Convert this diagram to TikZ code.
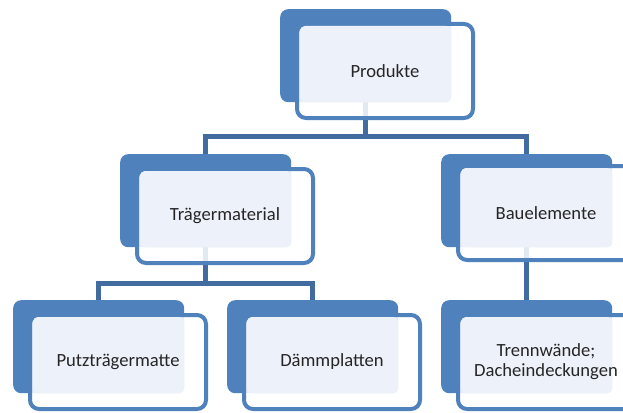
\documentclass[tikz,border=0pt]{standalone}
\usepackage{fontspec}
\setmainfont{Carlito}
\usepackage{tikz}
\usetikzlibrary{calc, positioning}
\definecolor{boxblue}{RGB}{79,129,189}
\definecolor{lightbox}{RGB}{237,241,249}
\definecolor{linkblue}{RGB}{66,108,160}
\pgfdeclarelayer{background}
\pgfsetlayers{background,main}

\begin{document}
\begin{tikzpicture}[x=1pt, y=-1pt,
    back/.style={anchor=north west, fill=boxblue, rounded corners=8pt, minimum width=171pt, minimum height=93pt, inner sep=0pt},
    front/.style={draw=boxblue, line width=4pt, fill=white, fill opacity=.85, rounded corners=9pt, minimum width=176pt, minimum height=94pt, inner sep=0pt},
    face/.style={fill=lightbox, rounded corners=5pt},
    lbl/.style={font=\fontsize{18.6}{20}\selectfont, text=black!85, align=center},
    link/.style={draw=linkblue, line width=5pt}]
      \clip (0, 0) rectangle (623, 412);
      % level 0
      \node[back] (prodBack) at (280, 9) {};
      \node[front, below right=13pt and 15pt of prodBack.north west] (prod) {};
      \fill[face] ([xshift=5pt, yshift=-4pt]prod.north west) rectangle (prodBack.south east);
      \node[lbl] (prodLbl) at (prod.center) {Produkte};
      % level 1
      \node[back] (traegBack) at (120, 154) {};
      \node[front, below right=13pt and 15pt of traegBack.north west] (traeg) {};
      \fill[face] ([xshift=5pt, yshift=-4pt]traeg.north west) rectangle (traegBack.south east);
      \node[lbl] (traegLbl) at (traeg.center) {Trägermaterial};
      \node[back] (bauBack) at (441, 154) {};
      \node[front, below right=10pt and 15pt of bauBack.north west] (bau) {};
      \fill[face] ([xshift=5pt, yshift=-4pt]bau.north west) rectangle (bauBack.south east);
      \node[lbl] (bauLbl) at (bau.center) {Bauelemente};
      % level 2
      \node[back] (putzBack) at (13, 300) {};
      \node[front, below right=13pt and 15pt of putzBack.north west] (putz) {};
      \fill[face] ([xshift=5pt, yshift=-4pt]putz.north west) rectangle (putzBack.south east);
      \node[lbl] (putzLbl) at (putz.center) {Putzträgermatte};
      \node[back] (daemmBack) at (227, 300) {};
      \node[front, below right=13pt and 15pt of daemmBack.north west] (daemm) {};
      \fill[face] ([xshift=5pt, yshift=-4pt]daemm.north west) rectangle (daemmBack.south east);
      \node[lbl] (daemmLbl) at (daemm.center) {Dämmplatten};
      \node[back] (trennBack) at (441, 300) {};
      \node[front, below right=13pt and 15pt of trennBack.north west] (trenn) {};
      \fill[face] ([xshift=5pt, yshift=-4pt]trenn.north west) rectangle (trennBack.south east);
      \node[lbl] (trennLbl) at (trenn.center) {Trennwände;\\Dacheindeckungen};
      % connectors
      \begin{pgfonlayer}{background}
      \draw[link] (prodBack.south) -- ++(0, 34) -| (traegBack.north);
      \draw[link] (prodBack.south) -- ++(0, 34) -| (bauBack.north);
      \draw[link] (traegBack.south) -- ++(0, 36) -| (putzBack.north);
      \draw[link] (traegBack.south) -- ++(0, 36) -| (daemmBack.north);
      \draw[link] (bauBack.south) -- (trennBack.north);
      \end{pgfonlayer}
    \end{tikzpicture}
\end{document}
